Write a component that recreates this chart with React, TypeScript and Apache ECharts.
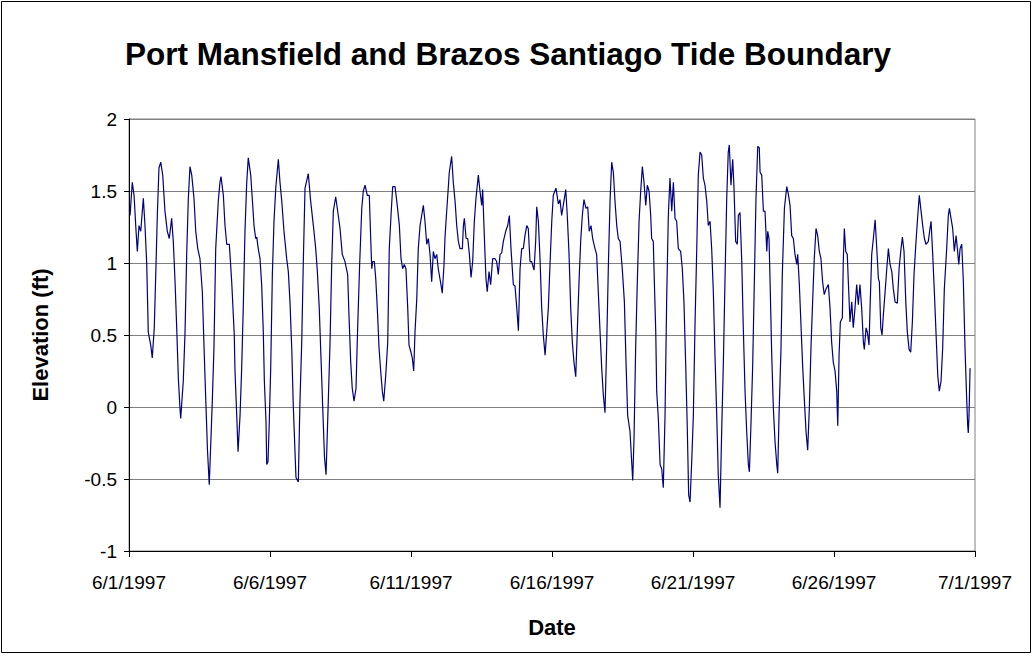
import React, { useEffect, useRef } from "react";
import * as echarts from "echarts";

const title = "Port Mansfield and Brazos Santiago Tide Boundary";
const yAxisTitle = "Elevation (ft)";
const xAxisTitle = "Date";
const xTickLabels = ["6/1/1997", "6/6/1997", "6/11/1997", "6/16/1997", "6/21/1997", "6/26/1997", "7/1/1997"];

// hours since 6/1/1997 00:00
const hours = [
  0.9, 2.8, 4.3, 6.0, 7.1, 8.5, 10.0, 12.2, 13.6, 15.1, 16.4, 18.5, 19.8, 21.5, 23.0, 24.1, 25.5, 27.0, 28.7, 30.6,
  32.6, 34.3, 36.3, 37.7, 39.2, 40.6, 42.0, 43.4, 44.0, 46.2, 47.7, 49.1, 50.5, 51.9, 53.4, 55.3, 56.8, 58.5, 60.4, 62.4,
  63.8, 65.3, 66.8, 68.3, 70.9, 72.3, 73.8, 76.0, 77.4, 78.3, 80.3, 81.7, 83.2, 85.4, 87.4, 89.6, 90.2, 91.7, 92.8, 94.5,
  95.9, 97.3, 98.7, 100.2, 101.5, 103.6, 104.9, 106.4, 107.8, 108.7, 110.0, 111.5, 112.9, 114.3, 115.2, 116.6, 117.2, 118.3, 119.4, 120.6,
  122.0, 123.4, 124.9, 127.1, 128.5, 130.0, 131.9, 134.2, 135.6, 137.0, 138.5, 139.8, 142.1, 144.1, 145.5, 147.0, 148.3, 149.8, 152.6, 154.6,
  156.9, 158.9, 160.3, 161.9, 163.4, 164.9, 166.4, 167.7, 169.6, 171.1, 172.5, 173.9, 175.9, 178.1, 179.6, 181.5, 183.8, 186.1, 187.2, 188.7,
  190.0, 191.5, 193.2, 194.6, 196.3, 198.1, 199.4, 200.9, 202.8, 204.5, 205.7, 206.6, 207.4, 208.8, 210.0, 211.3, 212.8, 214.2, 215.6, 216.8,
  218.5, 220.2, 221.5, 223.0, 224.4, 226.4, 228.3, 230.1, 231.5, 232.9, 234.3, 235.7, 237.2, 238.3, 240.0, 241.1, 242.3, 243.4, 244.9, 246.2,
  247.7, 249.1, 250.5, 251.9, 253.4, 254.8, 256.2, 257.6, 259.0, 260.4, 261.9, 263.2, 265.5, 266.6, 268.1, 268.9, 269.8, 271.3, 272.6, 274.6,
  276.0, 277.5, 278.9, 280.3, 281.7, 283.7, 284.6, 285.4, 286.9, 288.3, 289.7, 291.1, 292.5, 293.9, 295.3, 297.3, 298.7, 300.2, 301.0, 302.4,
  303.8, 304.9, 306.4, 307.8, 309.5, 311.5, 312.9, 314.3, 315.8, 317.2, 318.6, 320.6, 322.3, 323.7, 325.1, 327.1, 328.5, 330.0, 331.4, 332.8,
  334.2, 335.6, 337.0, 338.5, 339.8, 341.3, 342.7, 344.7, 346.1, 347.0, 348.4, 349.8, 351.2, 352.6, 354.1, 355.5, 356.9, 358.3, 359.8, 361.1,
  363.4, 365.4, 366.8, 368.2, 369.6, 371.7, 373.0, 374.5, 375.9, 377.3, 378.7, 380.2, 381.5, 383.0, 384.4, 385.8, 387.2, 388.9, 390.4, 391.7,
  393.2, 394.6, 396.6, 398.0, 399.4, 400.9, 402.3, 403.7, 405.1, 406.6, 408.0, 409.4, 410.8, 412.2, 413.6, 415.1, 416.4, 417.9, 419.8, 421.6,
  423.0, 424.4, 426.4, 427.8, 428.7, 429.8, 431.2, 432.6, 434.1, 435.5, 436.9, 438.3, 439.8, 441.1, 442.6, 444.0, 444.8, 446.2, 447.1, 448.3,
  449.1, 450.5, 452.0, 453.4, 454.7, 456.2, 457.6, 459.0, 460.4, 461.9, 463.3, 464.7, 466.1, 467.5, 469.5, 470.9, 472.3, 473.8, 475.1, 476.3,
  477.5, 478.9, 480.3, 481.7, 483.2, 484.5, 486.0, 487.4, 488.8, 490.2, 491.7, 493.0, 494.5, 495.9, 497.3, 498.7, 500.2, 501.5, 503.0, 504.4,
  505.8, 507.2, 508.7, 510.0, 510.9, 512.3, 513.8, 514.9, 516.3, 517.7, 518.6, 520.0, 521.5, 522.8, 524.3, 525.7, 527.1, 528.0, 529.4, 530.8,
  532.2, 533.6, 535.1, 536.4, 537.1, 538.5, 539.9, 541.3, 542.8, 543.6, 544.7, 545.6, 547.0, 548.4, 549.8, 551.3, 552.1, 553.2, 554.9, 556.0,
  557.8, 559.8, 561.1, 562.6, 564.0, 565.4, 566.8, 568.3, 569.1, 570.5, 571.9, 573.4, 574.7, 576.2, 577.6, 579.0, 580.4, 581.8, 583.2, 584.7,
  586.1, 587.5, 588.9, 590.3, 591.7, 593.2, 595.2, 596.6, 598.0, 599.4, 600.9, 602.3, 603.2, 604.3, 605.4, 607.1, 607.9, 608.8, 610.0, 611.3,
  612.2, 613.6, 615.1, 616.4, 617.9, 619.3, 620.7, 622.1, 623.6, 625.0, 625.8, 627.3, 628.4, 629.8, 630.7, 632.1, 633.5, 635.0, 636.4, 637.8,
  638.6, 639.8, 640.9, 642.0, 643.5, 644.9, 646.3, 647.7, 649.2, 650.5, 652.0, 653.9, 655.4, 656.8, 658.2, 659.6, 661.1, 662.4, 663.9, 665.3,
  666.7, 668.1, 669.8, 671.3, 672.6, 674.1, 675.5, 676.9, 678.3, 680.3, 681.7, 682.6, 684.0, 685.4, 686.8, 688.3, 689.6, 691.1, 692.5, 693.9,
  695.9, 697.3, 698.2, 699.6, 701.0, 702.4, 703.9, 705.0, 706.2, 707.3, 708.7, 710.1, 711.5, 712.9, 713.8, 714.3, 714.9, 715.8
];

const elevation = [
  1.33, 1.56, 1.47, 1.22, 1.08, 1.26, 1.22, 1.45, 1.26, 0.99, 0.52, 0.43, 0.34, 0.55, 0.99, 1.33, 1.66, 1.70, 1.61, 1.36,
  1.22, 1.17, 1.31, 1.15, 0.87, 0.55, 0.20, -0.01, -0.08, 0.18, 0.52, 1.06, 1.45, 1.67, 1.61, 1.45, 1.22, 1.10, 1.03, 0.80,
  0.43, 0.06, -0.30, -0.54, 0.04, 0.41, 1.10, 1.43, 1.56, 1.60, 1.47, 1.26, 1.13, 1.13, 0.87, 0.50, 0.25, -0.06, -0.31, -0.06,
  0.27, 0.71, 1.22, 1.56, 1.73, 1.61, 1.45, 1.26, 1.17, 1.18, 1.10, 1.03, 0.85, 0.52, 0.18, -0.10, -0.40, -0.38, -0.10, 0.27,
  0.92, 1.29, 1.52, 1.72, 1.56, 1.43, 1.22, 1.03, 0.94, 0.73, 0.41, 0.01, -0.49, -0.52, 0.04, 0.45, 0.99, 1.52, 1.62, 1.43,
  1.26, 1.10, 0.94, 0.69, 0.34, -0.01, -0.35, -0.47, 0.04, 0.45, 0.99, 1.36, 1.46, 1.33, 1.24, 1.06, 1.01, 0.92, 0.64, 0.31,
  0.13, 0.04, 0.13, 0.55, 0.99, 1.38, 1.50, 1.54, 1.47, 1.47, 1.17, 0.96, 1.01, 1.01, 0.89, 0.69, 0.41, 0.25, 0.11, 0.04,
  0.22, 0.45, 1.10, 1.33, 1.53, 1.53, 1.40, 1.26, 1.03, 0.96, 0.99, 0.96, 0.69, 0.43, 0.38, 0.34, 0.25, 0.52, 0.75, 1.10,
  1.26, 1.33, 1.40, 1.29, 1.13, 1.17, 1.06, 0.87, 1.08, 1.03, 1.06, 0.96, 0.85, 0.79, 0.99, 1.17, 1.29, 1.47, 1.63, 1.74,
  1.56, 1.43, 1.26, 1.15, 1.10, 1.10, 1.26, 1.31, 1.17, 1.17, 1.06, 0.90, 1.01, 1.29, 1.45, 1.61, 1.50, 1.40, 1.51, 1.19,
  0.89, 0.80, 0.94, 0.85, 1.03, 1.03, 1.01, 0.92, 1.06, 1.07, 1.15, 1.22, 1.26, 1.33, 1.10, 0.85, 0.84, 0.69, 0.53, 0.96,
  1.10, 1.10, 1.19, 1.26, 1.24, 1.01, 1.01, 0.95, 1.15, 1.39, 1.29, 1.03, 0.69, 0.50, 0.36, 0.52, 0.69, 0.99, 1.29, 1.47,
  1.52, 1.41, 1.44, 1.33, 1.40, 1.51, 1.33, 1.06, 0.69, 0.45, 0.31, 0.21, 0.52, 0.87, 1.15, 1.33, 1.44, 1.38, 1.39, 1.22,
  1.26, 1.17, 1.10, 1.06, 0.80, 0.52, 0.27, 0.08, -0.04, 0.45, 0.99, 1.43, 1.70, 1.63, 1.43, 1.26, 1.17, 1.15, 0.96, 0.73,
  0.31, -0.06, -0.17, -0.38, -0.51, -0.22, 0.41, 0.87, 1.29, 1.50, 1.67, 1.56, 1.40, 1.54, 1.50, 1.33, 1.17, 1.15, 0.87, 0.52,
  0.11, -0.08, -0.40, -0.43, -0.56, -0.06, 0.75, 1.33, 1.59, 1.36, 1.56, 1.31, 1.29, 1.10, 1.08, 0.96, 0.73, 0.29, -0.13, -0.61,
  -0.66, -0.38, -0.06, 0.57, 1.10, 1.61, 1.77, 1.75, 1.59, 1.54, 1.43, 1.26, 1.29, 1.10, 0.80, 0.36, -0.06, -0.47, -0.70, -0.17,
  0.29, 0.87, 1.45, 1.77, 1.82, 1.54, 1.72, 1.52, 1.15, 1.13, 1.33, 1.35, 1.01, 0.55, 0.11, -0.17, -0.40, -0.45, -0.10, 0.29,
  0.87, 1.45, 1.81, 1.80, 1.63, 1.61, 1.36, 1.36, 1.08, 1.22, 1.17, 0.87, 0.36, -0.01, -0.24, -0.40, -0.46, -0.06, 0.41, 0.92,
  1.38, 1.53, 1.48, 1.40, 1.19, 1.17, 1.06, 0.99, 1.06, 0.85, 0.57, 0.27, 0.06, -0.17, -0.30, -0.01, 0.41, 0.73, 1.03, 1.24,
  1.19, 1.08, 1.03, 0.87, 0.78, 0.82, 0.85, 0.69, 0.45, 0.31, 0.25, 0.11, -0.13, 0.36, 0.59, 0.62, 1.01, 1.24, 1.08, 1.06,
  0.87, 0.59, 0.73, 0.55, 0.69, 0.85, 0.71, 0.85, 0.68, 0.45, 0.40, 0.55, 0.52, 0.43, 0.69, 1.06, 1.17, 1.30, 1.10, 0.89,
  0.87, 0.55, 0.50, 0.64, 0.80, 0.96, 1.10, 0.99, 0.94, 0.82, 0.73, 0.72, 0.96, 1.08, 1.18, 1.08, 0.73, 0.52, 0.40, 0.38,
  0.59, 0.92, 1.15, 1.33, 1.47, 1.36, 1.26, 1.17, 1.13, 1.15, 1.24, 1.29, 1.06, 0.80, 0.52, 0.22, 0.11, 0.18, 0.41, 0.82,
  1.10, 1.33, 1.38, 1.31, 1.24, 1.08, 1.19, 1.10, 0.99, 1.10, 1.13, 0.87, 0.41, 0.06, -0.13, -0.18, -0.06, 0.27
];

export default function App() {
  const ref = useRef<HTMLDivElement>(null);
  useEffect(() => {
    document.body.style.margin = "0";
    const chart = echarts.init(ref.current!, null, { renderer: "svg" });
    const font = "Arial, 'Liberation Sans', sans-serif";
    const n = Math.min(hours.length, elevation.length);
    const data: [number, number][] = [];
    for (let i = 0; i < n; i++) data.push([hours[i] / 24, elevation[i]]);
    chart.setOption({
      animation: false,
      backgroundColor: "#ffffff",
      textStyle: { fontFamily: font },
      title: {
        text: title,
        left: 120,
        top: 33,
        textStyle: { fontFamily: font, fontSize: 31.5, fontWeight: "bold", color: "#000" },
      },
      grid: {
        left: 129,
        right: 59,
        top: 119,
        bottom: 105,
        show: true,
        borderColor: "#808080",
        borderWidth: 1,
        backgroundColor: "#ffffff",
      },
      xAxis: {
        type: "value",
        min: 0,
        max: 30,
        interval: 5,
        name: xAxisTitle,
        nameLocation: "middle",
        nameGap: 65,
        nameTextStyle: { fontFamily: font, fontSize: 22, fontWeight: "bold", color: "#000" },
        axisLine: { show: true, onZero: false, lineStyle: { color: "#000", width: 1 } },
        axisTick: { show: true, inside: false, length: 6, lineStyle: { color: "#000" } },
        axisLabel: {
          fontFamily: font,
          fontSize: 19,
          color: "#000",
          margin: 22,
          formatter: (v: number) => xTickLabels[Math.round(v / 5)] ?? "",
        },
        splitLine: { show: false },
      },
      yAxis: {
        type: "value",
        min: -1,
        max: 2,
        interval: 0.5,
        name: yAxisTitle,
        nameLocation: "middle",
        nameGap: 78,
        nameTextStyle: { fontFamily: font, fontSize: 22, fontWeight: "bold", color: "#000" },
        axisLine: { show: true, onZero: false, lineStyle: { color: "#000", width: 1 } },
        axisTick: { show: true, inside: false, length: 5, lineStyle: { color: "#000" } },
        axisLabel: { fontFamily: font, fontSize: 19, color: "#000", margin: 12 },
        splitLine: { show: true, lineStyle: { color: "#808080", width: 1 } },
      },
      series: [
        {
          type: "line",
          data,
          showSymbol: false,
          symbol: "none",
          lineStyle: { color: "#000080", width: 1.2 },
          silent: true,
        },
      ],
      graphic: [
        {
          type: "rect",
          shape: { x: 1.5, y: 1.5, width: 1029, height: 651 },
          style: { fill: "none", stroke: "#000", lineWidth: 1 },
          silent: true,
        },
      ],
    });
    return () => chart.dispose();
  }, []);
  return <div ref={ref} style={{ width: 1034, height: 656 }} />;
}
